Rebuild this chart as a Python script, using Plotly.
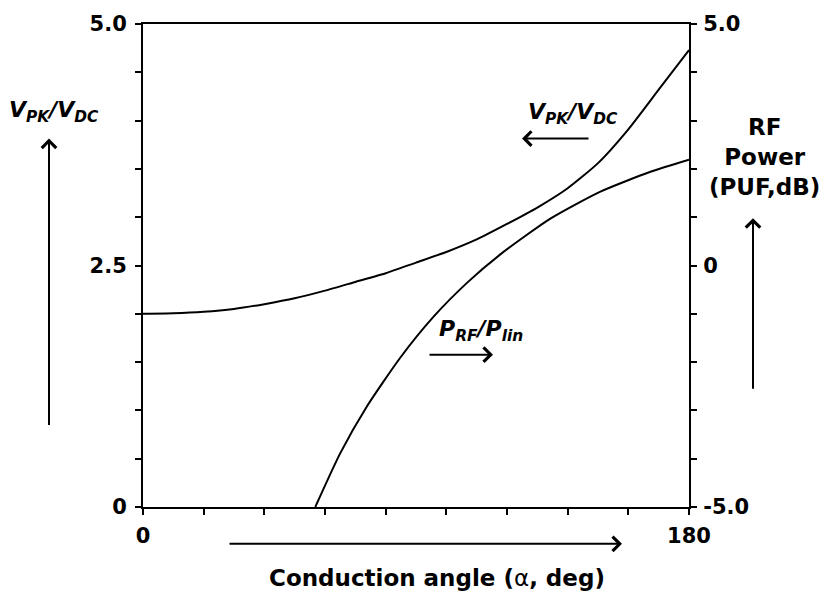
import plotly.graph_objects as go

# conduction angle (deg) and the two curves
angle_v = [0, 10, 20, 30, 40, 50, 60, 70, 80, 90, 100, 110, 120, 130, 140, 150, 160, 170, 180]
vpk_vdc = [2.00, 2.005, 2.02, 2.05, 2.10, 2.16, 2.24, 2.33, 2.42, 2.53, 2.64, 2.77, 2.93, 3.10, 3.30, 3.56, 3.91, 4.32, 4.73]

angle_p = [56.8, 65, 73.8, 84.8, 95.8, 106.8, 117.8, 134.3, 150.8, 167.3, 180]
puf_db = [-5.0, -3.89, -2.92, -1.91, -1.06, -0.36, 0.23, 0.97, 1.53, 1.94, 2.19]

left_ticks = [0, 2.5, 5.0]
left_text = ["0", "2.5", "5.0"]
right_ticks = [-5, 0, 5]
right_text = ["-5.0", "0", "5.0"]
x_ticks = [0, 180]
x_text = ["0", "180"]

FONT = "DejaVu Sans, Arial, sans-serif"
L, R, T, B = 143, 689, 22, 507  # plot box in pixels


def px(x):
    return (x - L) / (R - L)


def py(y):
    return (B - y) / (B - T)


fig = go.Figure()
fig.add_trace(go.Scatter(x=angle_v, y=vpk_vdc, mode="lines",
                         line=dict(color="black", width=2, shape="spline", smoothing=0.6),
                         yaxis="y"))
fig.add_trace(go.Scatter(x=angle_p, y=puf_db, mode="lines",
                         line=dict(color="black", width=2, shape="spline", smoothing=0.6),
                         yaxis="y2"))

tickfont = dict(family=FONT, size=21, color="black", weight="bold")
axis_common = dict(ticks="outside", ticklen=6, tickwidth=2, tickcolor="black",
                   showline=True, linewidth=2, linecolor="black",
                   showgrid=False, zeroline=False, tickfont=tickfont)


def minor(step):
    return dict(ticks="outside", dtick=step, ticklen=6, tickwidth=2,
                tickcolor="black", showgrid=False)


fig.update_layout(
    width=825, height=597,
    margin=dict(l=L, r=825 - R, t=T, b=597 - B),
    paper_bgcolor="white", plot_bgcolor="white",
    showlegend=False,
    xaxis=dict(range=[0, 180], tickvals=x_ticks, ticktext=x_text, mirror=True,
               ticklabelstandoff=3, minor=minor(20), **axis_common),
    yaxis=dict(range=[0, 5], tickvals=left_ticks, ticktext=left_text,
               ticklabelstandoff=4, minor=minor(0.5), **axis_common),
    yaxis2=dict(range=[-5, 5], tickvals=right_ticks, ticktext=right_text,
                overlaying="y", side="right", ticklabelstandoff=2,
                minor=minor(1), **axis_common),
)

ann = [
    dict(x=px(54), y=py(110), text="<b><i>V<sub>PK</sub>/V<sub>DC</sub></i></b>", size=22),
    dict(x=px(573), y=py(112), text="<b><i>V<sub>PK</sub>/V<sub>DC</sub></i></b>", size=22),
    dict(x=px(481), y=py(330), text="<b><i>P<sub>RF</sub>/P<sub>lin</sub></i></b>", size=22),
    dict(x=px(764), y=py(156), text="<b>RF<br>Power<br>(PUF,dB)</b>", size=23),
    dict(x=px(437), y=py(578), text="<b>Conduction angle (</b>\u03b1<b>, deg)</b>", size=23),
]
for a in ann:
    size = a.pop("size")
    fig.add_annotation(xref="paper", yref="paper", showarrow=False,
                       font=dict(family=FONT, size=size, color="black"),
                       xanchor="center", yanchor="middle", **a)

# arrows: tip position and tail offset in pixels
arrows = [
    (49, 137, 0, 288),     # left vertical
    (753, 217, 0, 172),    # right vertical
    (622, 544, -394, 0),   # under x axis
    (522, 137, 68, 0),     # V_PK/V_DC pointer
    (493, 354, -65, 0),    # P_RF/P_lin pointer
]
for x, y, ax, ay in arrows:
    fig.add_annotation(xref="paper", yref="paper", x=px(x), y=py(y), ax=ax, ay=ay,
                       text="", showarrow=True, arrowhead=4, arrowsize=1.4,
                       arrowwidth=2, arrowcolor="black", standoff=0, startstandoff=0)

fig.write_html("out.html", config={"displayModeBar": False},
               post_script="document.body.style.margin='0';")
